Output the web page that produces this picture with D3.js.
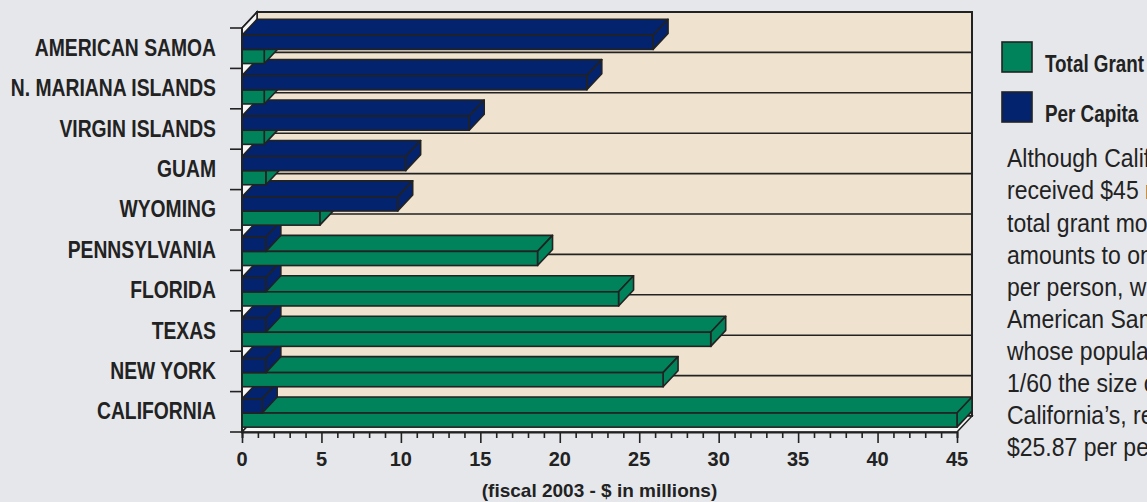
<!DOCTYPE html>
<html>
<head>
<meta charset="utf-8">
<script src="https://cdn.jsdelivr.net/npm/d3@7"></script>
<style>
  html, body { margin: 0; padding: 0; background: #e6e7eb; }
  svg { display: block; }
</style>
</head>
<body>
<svg id="chart" width="1147" height="502"></svg>
<script>
// ---- data ----
const categories = ["AMERICAN SAMOA", "N. MARIANA ISLANDS", "VIRGIN ISLANDS", "GUAM", "WYOMING",
                    "PENNSYLVANIA", "FLORIDA", "TEXAS", "NEW YORK", "CALIFORNIA"];
const totalGrant = [1.4, 1.4, 1.4, 1.5, 4.9, 18.6, 23.7, 29.5, 26.5, 45.0];
const perCapita  = [25.87, 21.7, 14.3, 10.3, 9.8, 1.5, 1.5, 1.5, 1.5, 1.27];
const seriesNames = ["Per Capita", "Total Grant"];
const tickLabels = [0, 5, 10, 15, 20, 25, 30, 35, 40, 45];
const axisTitle = "(fiscal 2003 - $ in millions)";
const noteLines = ["Although California", "received $45 million in", "total grant money, that",
                   "amounts to only $1.27", "per person, while", "American Samoa,",
                   "whose population is", "1/60 the size of", "California\u2019s, received",
                   "$25.87 per person."];

// ---- style ----
const C = { green: "#00825a", blue: "#03236f", wall: "#efe3d0", side: "#f6f6f6",
            ink: "#222222", bg: "#e6e7eb" };
const DX = 15, DY = 16;
const FONT = "'Liberation Sans', Arial, sans-serif";

const svg = d3.select("#chart");
svg.append("rect").attr("width", 1147).attr("height", 502).attr("fill", C.bg);

// condensed text helper (imitates a condensed face)
function ctext(parent, tx, ty, str, size, weight, anchor, squeeze) {
  const g = parent.append("g").attr("transform", `translate(${tx},${ty}) scale(${squeeze},1)`);
  return g.append("text").attr("x", 0).attr("y", 0)
    .attr("text-anchor", anchor || "start")
    .attr("font-family", FONT).attr("font-weight", weight).attr("font-size", size)
    .attr("fill", C.ink).text(str);
}

const x = d3.scaleLinear().domain([0, 45]).range([242, 957]);
const y = d3.scaleBand().domain(categories).range([28, 432])
  .paddingInner(0.3).paddingOuter(0.15).align(0.6);
const ys = d3.scaleBand().domain(seriesNames).range([0, y.bandwidth()]);
const step = y.step();
const top0 = y.range()[0], bot0 = y.range()[1];
const X0 = x(0), X1 = x(45);

// back wall
svg.append("rect").attr("x", X0 + DX).attr("y", top0 - DY)
  .attr("width", X1 - X0).attr("height", bot0 - top0)
  .attr("fill", C.wall).attr("stroke", C.ink).attr("stroke-width", 2);
// left wall
svg.append("polygon")
  .attr("points", [[X0, top0], [X0 + DX, top0 - DY], [X0 + DX, bot0 - DY], [X0, bot0]].join(" "))
  .attr("fill", C.side).attr("stroke", C.ink).attr("stroke-width", 1.5);
// floor
svg.append("polygon")
  .attr("points", [[X0, bot0], [X1, bot0], [X1 + DX, bot0 - DY], [X0 + DX, bot0 - DY]].join(" "))
  .attr("fill", C.side).attr("stroke", C.ink).attr("stroke-width", 1.5);
// back-wall gridlines at category boundaries
const bounds = d3.range(categories.length + 1).map(i => top0 + i * step);
svg.append("g").selectAll("line").data(bounds.slice(1, -1)).join("line")
  .attr("x1", X0 + DX).attr("x2", X1 + DX)
  .attr("y1", d => d - DY).attr("y2", d => d - DY)
  .attr("stroke", C.ink).attr("stroke-width", 1.6);

// bars
function box(g, v, yt, yb, fill) {
  const a = x(0), b = x(v);
  g.append("polygon").attr("points", [[a, yt], [b, yt], [b + DX, yt - DY], [a + DX, yt - DY]].join(" "))
    .attr("fill", fill).attr("stroke", C.ink).attr("stroke-width", 1.6).attr("stroke-linejoin", "round");
  g.append("polygon").attr("points", [[b, yt], [b, yb], [b + DX, yb - DY], [b + DX, yt - DY]].join(" "))
    .attr("fill", fill).attr("stroke", C.ink).attr("stroke-width", 1.6).attr("stroke-linejoin", "round");
  g.append("rect").attr("x", a).attr("y", yt).attr("width", b - a).attr("height", yb - yt)
    .attr("fill", fill).attr("stroke", C.ink).attr("stroke-width", 1.6);
}
const barsG = svg.append("g");
for (let i = categories.length - 1; i >= 0; i--) {
  const c = categories[i];
  const g = barsG.append("g");
  const yg = y(c) + ys("Total Grant");
  box(g, totalGrant[i], yg, yg + ys.bandwidth(), C.green);
  const yb = y(c) + ys("Per Capita");
  box(g, perCapita[i], yb, yb + ys.bandwidth(), C.blue);
}

// front edge of left wall (y axis)
svg.append("line").attr("x1", X0).attr("x2", X0).attr("y1", top0).attr("y2", bot0)
  .attr("stroke", C.ink).attr("stroke-width", 2);
svg.append("line").attr("x1", X0).attr("x2", X0 + DX).attr("y1", top0).attr("y2", top0 - DY)
  .attr("stroke", C.ink).attr("stroke-width", 1.5);

// y axis ticks (category boundaries) and labels
svg.append("g").selectAll("line").data(bounds).join("line")
  .attr("x1", X0 - 12).attr("x2", X0).attr("y1", d => d).attr("y2", d => d)
  .attr("stroke", C.ink).attr("stroke-width", 1.6);
const labG = svg.append("g");
categories.forEach((c, i) => {
  ctext(labG, 216, top0 + (i + 0.5) * step + 7.5, c, 23, "bold", "end", 0.84);
});

// x axis
const xAxis = d3.axisBottom(x).tickValues(d3.range(0, 46, 1)).tickSize(6).tickFormat("");
const xg = svg.append("g").attr("transform", `translate(0,${bot0})`).call(xAxis);
xg.select(".domain").attr("stroke", C.ink).attr("stroke-width", 2);
xg.selectAll(".tick line").attr("stroke", C.ink).attr("stroke-width", 1.6)
  .attr("y2", d => (d % 5 === 0 ? 11 : 6));
svg.append("g").selectAll("text").data(tickLabels).join("text")
  .attr("x", d => x(d)).attr("y", 466).attr("text-anchor", "middle")
  .attr("font-family", FONT).attr("font-weight", "bold")
  .attr("font-size", 20).attr("fill", C.ink).text(d => d);
svg.append("text").attr("x", (X0 + X1) / 2).attr("y", 497).attr("text-anchor", "middle")
  .attr("font-family", FONT).attr("font-weight", "bold").attr("font-size", 19)
  .attr("fill", C.ink).text(axisTitle);

// legend
const legend = [["Total Grant", C.green], ["Per Capita", C.blue]];
const legG = svg.append("g");
legend.forEach(([name, col], i) => {
  legG.append("rect").attr("x", 1002).attr("y", 42 + i * 50).attr("width", 30).attr("height", 30)
    .attr("fill", col).attr("stroke", C.ink).attr("stroke-width", 1.6);
  ctext(legG, 1045, 71.5 + i * 50, name, 23, "bold", "start", 0.82);
});

// note text (runs past the right edge, as in the original)
const noteG = svg.append("g");
noteLines.forEach((line, i) => {
  ctext(noteG, 1007, 167.3 + i * 32.1, line, 25, "normal", "start", 0.92);
});
</script>
</body>
</html>
